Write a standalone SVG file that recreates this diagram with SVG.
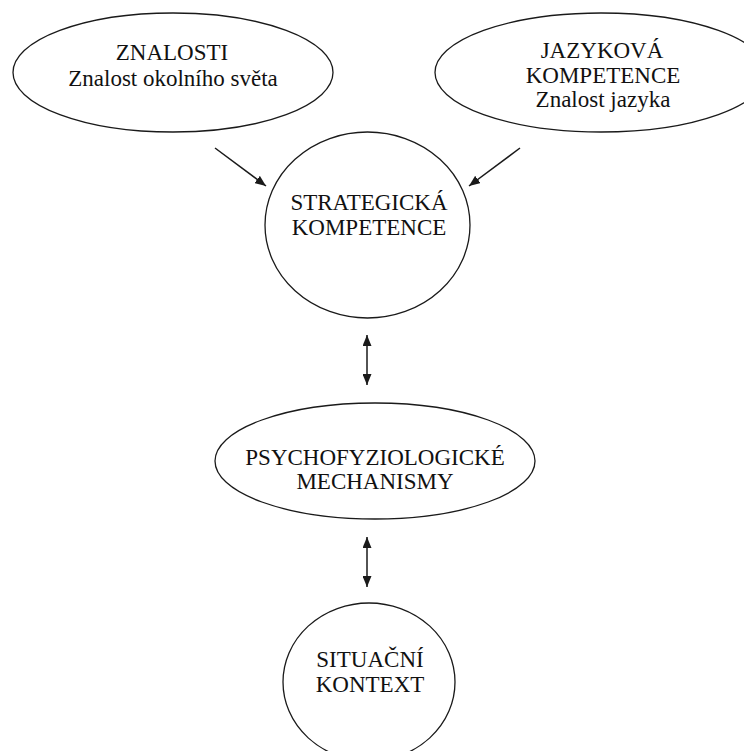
<svg xmlns="http://www.w3.org/2000/svg" width="744" height="751" viewBox="0 0 744 751">
  <style>
    .shape { fill: #ffffff; stroke: #1a1a1a; stroke-width: 1.3; }
    .label { font-family: 'Liberation Serif', 'Times New Roman', serif; font-size: 23px; fill: #111111; text-anchor: middle; }
    .link { stroke: #1a1a1a; stroke-width: 1.5; fill: none; }
  </style>
  <defs>
    <marker id="head" viewBox="0 0 11 9" refX="11" refY="4.5" markerWidth="11" markerHeight="9" markerUnits="userSpaceOnUse" orient="auto-start-reverse">
      <path d="M0,0 L11,4.5 L0,9 z" fill="#1a1a1a"/>
    </marker>
  </defs>
  <rect width="744" height="751" fill="#ffffff"/>

  <g id="znalosti">
    <ellipse class="shape" cx="173" cy="72.5" rx="160" ry="59.5"/>
    <text class="label" x="172" y="60">ZNALOSTI</text>
    <text class="label" x="173" y="86">Znalost okolního světa</text>
  </g>

  <g id="jazykova-kompetence">
    <ellipse class="shape" cx="601" cy="72.5" rx="166" ry="59.5"/>
    <text class="label" x="602" y="58">JAZYKOVÁ</text>
    <text class="label" x="603" y="83">KOMPETENCE</text>
    <text class="label" x="603" y="107">Znalost jazyka</text>
  </g>

  <g id="strategicka-kompetence">
    <ellipse class="shape" cx="367.5" cy="225" rx="102.5" ry="93"/>
    <text class="label" x="369" y="210">STRATEGICKÁ</text>
    <text class="label" x="369" y="235">KOMPETENCE</text>
  </g>

  <g id="psychofyziologicke-mechanismy">
    <ellipse class="shape" cx="375" cy="461" rx="160" ry="58"/>
    <text class="label" x="375" y="465">PSYCHOFYZIOLOGICKÉ</text>
    <text class="label" x="375" y="489">MECHANISMY</text>
  </g>

  <g id="situacni-kontext">
    <ellipse class="shape" cx="369" cy="682" rx="86" ry="79"/>
    <text class="label" x="370" y="667">SITUAČNÍ</text>
    <text class="label" x="370" y="692">KONTEXT</text>
  </g>

  <g id="connectors">
    <line class="link" x1="215" y1="148" x2="266" y2="186" marker-end="url(#head)"/>
    <line class="link" x1="520" y1="148" x2="469" y2="186" marker-end="url(#head)"/>
    <line class="link" x1="367" y1="335" x2="367" y2="385" marker-start="url(#head)" marker-end="url(#head)"/>
    <line class="link" x1="367" y1="537" x2="367" y2="587" marker-start="url(#head)" marker-end="url(#head)"/>
  </g>
</svg>
